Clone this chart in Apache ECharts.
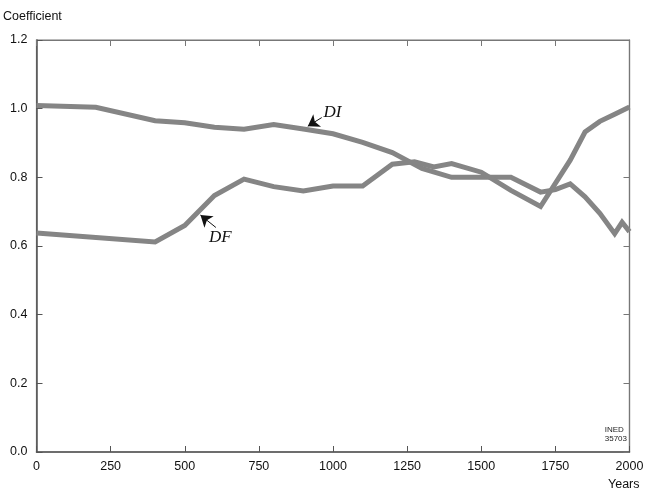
<!DOCTYPE html>
<html><head><meta charset="utf-8">
<script src="https://cdn.jsdelivr.net/npm/echarts@6/dist/echarts.min.js"></script>
<style>html,body{margin:0;padding:0;background:#fff}#c{width:645px;height:495px}</style>
</head><body><div id="c"></div>
<script>
// Data
var diYears = [0,200,400,500,600,700,800,900,1000,1100,1200,1300,1400,1500,1600,1700,1750,1800,1850,1900,1950,1975,2000];
var diValues = [1.009,1.004,0.965,0.959,0.946,0.940,0.954,0.941,0.927,0.902,0.872,0.826,0.800,0.800,0.800,0.757,0.764,0.781,0.743,0.695,0.636,0.669,0.642];
var dfYears = [0,400,500,600,700,800,900,1000,1100,1200,1275,1340,1400,1500,1600,1700,1800,1850,1900,1950,2000];
var dfValues = [0.638,0.612,0.660,0.747,0.795,0.773,0.760,0.775,0.775,0.838,0.845,0.830,0.840,0.815,0.762,0.715,0.850,0.932,0.963,0.984,1.005];
var xTicks = [0,250,500,750,1000,1250,1500,1750,2000];
var yTicks = [0.0,0.2,0.4,0.6,0.8,1.0,1.2];

function pairs(xs, ys){ return xs.map(function(x,i){return [x, ys[i]];}); }

var chart = echarts.init(document.getElementById('c'), null, {renderer:'canvas'});
var axisCol = '#555';
var lbl = {color:'#111', fontFamily:'Liberation Sans, Arial', fontSize:12.5};
var lineStyle = {color:'#858585', width:5, join:'miter'};
var arrowLine = {color:'#111', width:1, type:'solid'};

chart.setOption({
  animation:false,
  grid:{left:36.5, right:15.5, top:40, bottom:43, containLabel:false, outerBoundsMode:'none',
        show:true, borderColor:'#777', borderWidth:1.2, backgroundColor:'transparent'},
  xAxis:[{
    type:'value', min:0, max:2000, interval:250,
    axisLine:{show:true, onZero:false, lineStyle:{color:axisCol, width:1.5}},
    axisTick:{show:true, inside:true, length:6, lineStyle:{color:axisCol}},
    axisLabel:Object.assign({margin:8, formatter:function(v){return String(v);}}, lbl),
    splitLine:{show:false},
    name:'Years', nameLocation:'end', nameGap:0,
    nameTextStyle:Object.assign({}, lbl, {align:'right', verticalAlign:'top', padding:[26,-10,0,0]})
  },{
    type:'value', min:0, max:2000, interval:250, position:'top',
    axisLine:{show:true, onZero:false, lineStyle:{color:'#777', width:1.2}},
    axisTick:{show:true, inside:true, length:6, lineStyle:{color:'#777'}},
    axisLabel:{show:false}, splitLine:{show:false}
  }],
  yAxis:[{
    type:'value', min:0, max:1.2, interval:0.2,
    axisLine:{show:true, onZero:false, lineStyle:{color:axisCol, width:1.5}},
    axisTick:{show:true, inside:true, length:6, lineStyle:{color:axisCol}},
    axisLabel:Object.assign({margin:9, formatter:function(v){return v.toFixed(1);}}, lbl),
    splitLine:{show:false}
  },{
    type:'value', min:0, max:1.2, interval:0.2, position:'right',
    axisLine:{show:true, onZero:false, lineStyle:{color:'#777', width:1.2}},
    axisTick:{show:true, inside:true, length:6, lineStyle:{color:'#777'}},
    axisLabel:{show:false}, splitLine:{show:false}
  }],
  series:[{
    name:'DI', type:'line', data:pairs(diYears, diValues), symbol:'none', lineStyle:lineStyle,
    markLine:{silent:true, symbol:['none','arrow'], symbolSize:11, lineStyle:arrowLine, label:{show:false},
      itemStyle:{color:'#111'},
      data:[[{coord:[962,0.974]},{coord:[915,0.949]}]]},
    markPoint:{silent:true, symbol:'circle', symbolSize:0,
      label:{show:true, formatter:'DI', position:'inside', color:'#111', fontStyle:'italic', fontFamily:'Liberation Serif, Times New Roman', fontSize:17, align:'left', verticalAlign:'middle'},
      data:[{coord:[968,0.99]}]}
  },{
    name:'DF', type:'line', data:pairs(dfYears, dfValues), symbol:'none', lineStyle:lineStyle,
    markLine:{silent:true, symbol:['none','arrow'], symbolSize:11, lineStyle:arrowLine, label:{show:false},
      itemStyle:{color:'#111'},
      data:[[{coord:[605,0.654]},{coord:[553,0.690]}]]},
    markPoint:{silent:true, symbol:'circle', symbolSize:0,
      label:{show:true, formatter:'DF', position:'inside', color:'#111', fontStyle:'italic', fontFamily:'Liberation Serif, Times New Roman', fontSize:17, align:'center', verticalAlign:'middle'},
      data:[{coord:[620,0.624]}]}
  },{
    name:'frame', type:'line', xAxisIndex:1, yAxisIndex:1, data:[], symbol:'none', silent:true
  }],
  graphic:[{
    type:'text', left:3, top:10,
    style:{text:'Coefficient', fill:'#111', font:'12.5px Liberation Sans, Arial'}
  },{
    type:'text', right:18, bottom:52,
    style:{text:'INED\n35703', align:'right', fill:'#222', font:'8px Liberation Sans, Arial', lineHeight:9}
  }]
});
</script></body></html>
